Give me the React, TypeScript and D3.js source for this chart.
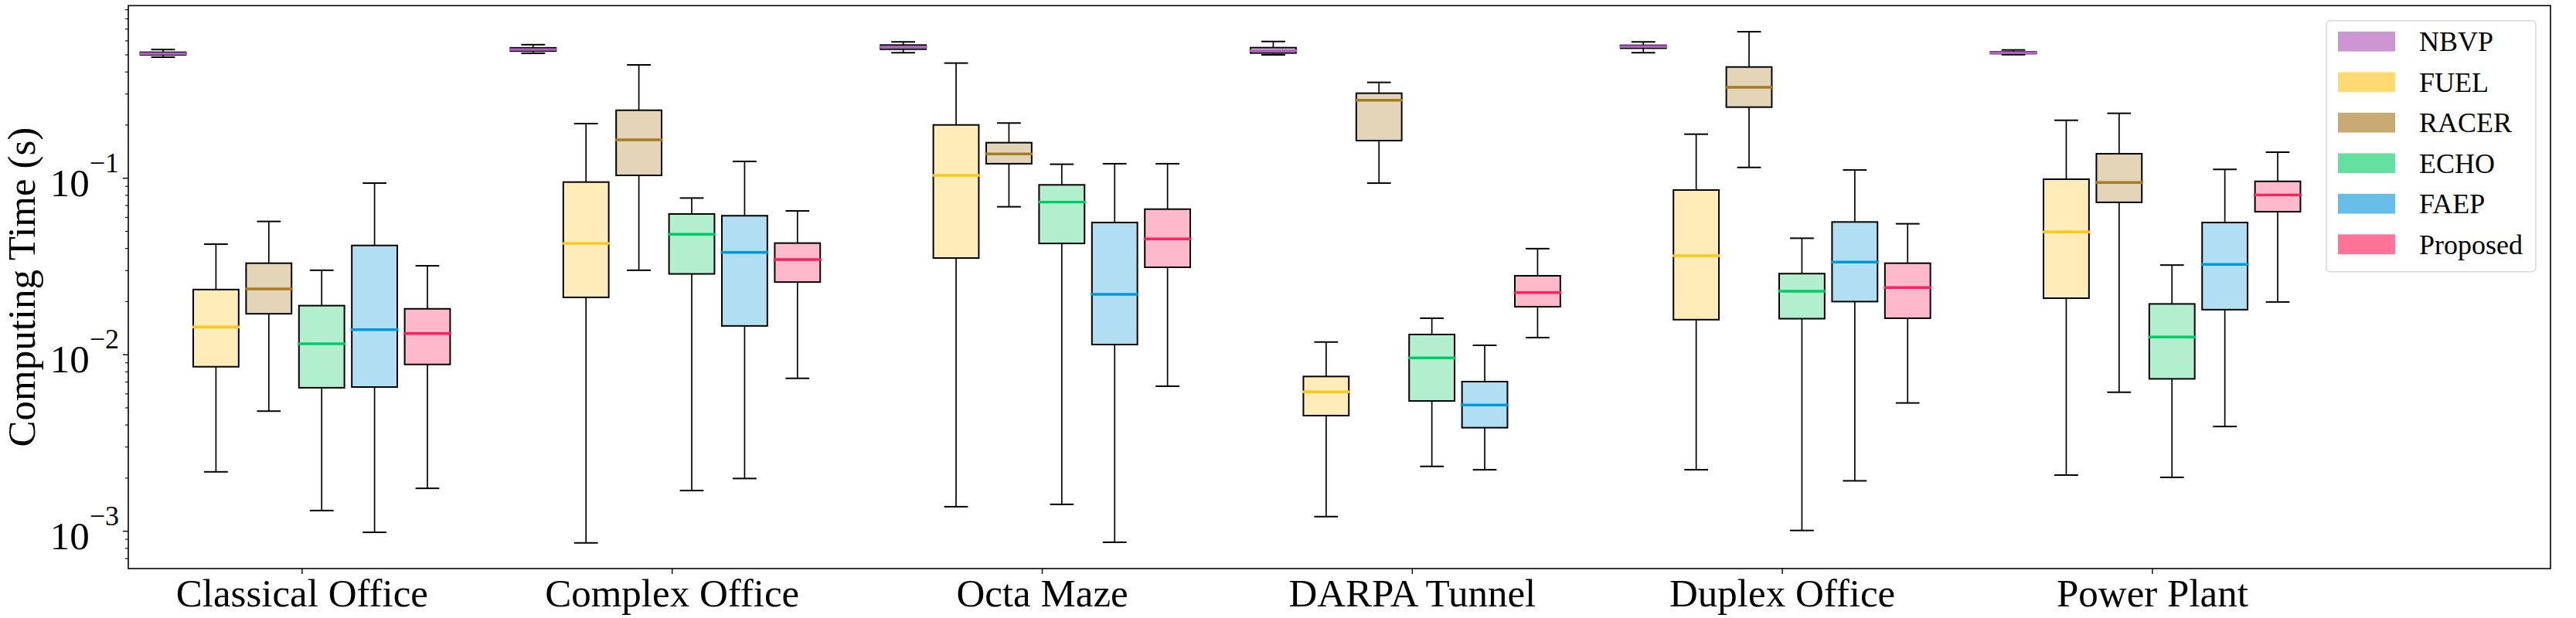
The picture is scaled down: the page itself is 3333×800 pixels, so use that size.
import React from 'react';
import * as d3 from 'd3';

// ---------- data ----------
const categories = ['Classical Office', 'Complex Office', 'Octa Maze', 'DARPA Tunnel', 'Duplex Office', 'Power Plant'];
const methods = ['NBVP', 'FUEL', 'RACER', 'ECHO', 'FAEP', 'Proposed'];

// each entry: [whisker low, Q1, median, Q3, whisker high] per category
const nbvpStats = [
  [0.485, 0.500, 0.508, 0.517, 0.536],
  [0.510, 0.525, 0.536, 0.548, 0.571],
  [0.514, 0.538, 0.553, 0.568, 0.592],
  [0.500, 0.512, 0.527, 0.549, 0.595],
  [0.514, 0.545, 0.557, 0.566, 0.592],
  [0.501, 0.508, 0.514, 0.520, 0.533],
];
const fuelStats = [
  [0.00217, 0.00855, 0.01436, 0.0234, 0.0423],
  [0.000859, 0.02113, 0.0427, 0.0951, 0.2038],
  [0.001377, 0.0353, 0.1038, 0.2004, 0.449],
  [0.00121, 0.00452, 0.00616, 0.00753, 0.0118],
  [0.00223, 0.0158, 0.0364, 0.0857, 0.1776],
  [0.00208, 0.0209, 0.0496, 0.0987, 0.2129],
];
const racerStats = [
  [0.00479, 0.01706, 0.0236, 0.0330, 0.0569],
  [0.0301, 0.1038, 0.165, 0.2427, 0.4385],
  [0.0689, 0.1208, 0.1372, 0.159, 0.2054],
  [0.0938, 0.1633, 0.2767, 0.303, 0.349],
  [0.1151, 0.2527, 0.3274, 0.4267, 0.676],
  [0.00613, 0.073, 0.0945, 0.1376, 0.2332],
];
const echoStats = [
  [0.00131, 0.0065, 0.01153, 0.01897, 0.0301],
  [0.0017, 0.0287, 0.0481, 0.0627, 0.0772],
  [0.00142, 0.0427, 0.0732, 0.0917, 0.120],
  [0.00233, 0.00547, 0.0096, 0.01302, 0.0161],
  [0.00101, 0.0160, 0.0229, 0.0288, 0.0457],
  [0.00202, 0.0073, 0.0126, 0.0194, 0.0322],
];
const faepStats = [
  [0.000986, 0.00656, 0.01387, 0.0416, 0.0938],
  [0.00199, 0.01456, 0.038, 0.0613, 0.1245],
  [0.000866, 0.01142, 0.022, 0.0561, 0.1208],
  [0.00223, 0.00386, 0.00519, 0.00704, 0.01131],
  [0.00193, 0.0200, 0.0335, 0.0565, 0.1113],
  [0.00392, 0.018, 0.0325, 0.0561, 0.1122],
];
const proposedStats = [
  [0.00175, 0.00881, 0.01318, 0.0182, 0.0319],
  [0.00735, 0.0258, 0.0346, 0.0429, 0.0653],
  [0.00663, 0.0313, 0.0453, 0.0668, 0.1208],
  [0.0125, 0.0187, 0.0225, 0.028, 0.0399],
  [0.00533, 0.0161, 0.024, 0.033, 0.0552],
  [0.0199, 0.0646, 0.0804, 0.096, 0.1404],
];
const yMajorTicks = [1e-3, 1e-2, 1e-1];
const yTickExponents = ['\u22123', '\u22122', '\u22121'];

// ---------- styles / layout ----------
const baseColors = ['#AA50B6', '#FFC014', '#A37114', '#00CB61', '#0091D9', '#FF1653'];
const medianColors = ['#B060C0', '#FFC61A', '#A87A22', '#00CC66', '#0099DD', '#FF2060'];
const FONT = '"Liberation Serif", "Times New Roman", serif';
const W = 3333, H = 800;
const M = { left: 166, right: 33, top: 7.3, bottom: 64 };
const GROUP_STRIDE = 7;
const BOX_W = 0.86;
const CAP_W = 0.45;
const TICK_OFFSET = 2.63;

export default function App() {
  const allStats = [nbvpStats, fuelStats, racerStats, echoStats, faepStats, proposedStats];
  const x = d3.scaleLinear().domain([-0.658, 45.16]).range([M.left, W - M.right]);
  const y = d3.scaleLog().domain([6.145e-4, 0.9499]).range([H - M.bottom, M.top]);

  const minorTicks: number[] = [];
  for (let e = -4; e <= 0; e++) {
    for (let k = 2; k <= 9; k++) {
      const v = k * Math.pow(10, e);
      if (v > y.domain()[0] && v < y.domain()[1]) minorTicks.push(v);
    }
  }

  const boxes: any[] = [];
  categories.forEach((cat, g) => {
    methods.forEach((m, j) => {
      const s = allStats[j][g];
      boxes.push({ g, j, pos: g * GROUP_STRIDE + j, s });
    });
  });

  const bw = x(BOX_W) - x(0);
  const cw = x(CAP_W) - x(0);

  const legendX = 3010, legendY = 26.7, legendW = 271, legendH = 325;

  return (
    <svg width={W} height={H} style={{ position: 'absolute', left: 0, top: 0, background: '#fff' }}
      xmlns="http://www.w3.org/2000/svg">
      <rect x={0} y={0} width={W} height={H} fill="#fff" />
      {/* boxes */}
      {boxes.map((b, i) => {
        const cx = x(b.pos);
        const [lo, q1, med, q3, hi] = b.s;
        return (
          <g key={i}>
            <line x1={cx} x2={cx} y1={y(hi)} y2={y(q3)} stroke="#000" strokeWidth={1.7} />
            <line x1={cx} x2={cx} y1={y(q1)} y2={y(lo)} stroke="#000" strokeWidth={1.7} />
            <line x1={cx - cw / 2} x2={cx + cw / 2} y1={y(hi)} y2={y(hi)} stroke="#000" strokeWidth={2} />
            <line x1={cx - cw / 2} x2={cx + cw / 2} y1={y(lo)} y2={y(lo)} stroke="#000" strokeWidth={2} />
            <rect x={cx - bw / 2} y={y(q3)} width={bw} height={Math.max(0.5, y(q1) - y(q3))}
              fill="#fff" stroke="none" />
            <rect x={cx - bw / 2} y={y(q3)} width={bw} height={Math.max(0.5, y(q1) - y(q3))}
              fill={baseColors[b.j]} fillOpacity={0.3} stroke="#000" strokeWidth={2} />
            <line x1={cx - bw / 2 - 1.5} x2={cx + bw / 2 + 1.5} y1={y(med)} y2={y(med)}
              stroke={medianColors[b.j]} strokeWidth={3.4} />
          </g>
        );
      })}

      {/* frame */}
      <rect x={M.left} y={M.top} width={W - M.left - M.right} height={H - M.top - M.bottom}
        fill="none" stroke="#000" strokeWidth={1.6} />

      {/* y ticks */}
      {yMajorTicks.map((v, i) => (
        <g key={'ym' + i}>
          <line x1={M.left - 7} x2={M.left} y1={y(v)} y2={y(v)} stroke="#000" strokeWidth={1.4} />
          <text x={154} y={y(v) + 23} textAnchor="end" fontFamily={FONT} fill="#000">
            <tspan fontSize={51}>10</tspan>
            <tspan fontSize={36} dy={-31}>{yTickExponents[i]}</tspan>
          </text>
        </g>
      ))}
      {minorTicks.map((v, i) => (
        <line key={'yn' + i} x1={M.left - 4} x2={M.left} y1={y(v)} y2={y(v)} stroke="#000" strokeWidth={1.1} />
      ))}

      {/* x ticks */}
      {categories.map((c, g) => {
        const tx = x(g * GROUP_STRIDE + TICK_OFFSET);
        return (
          <g key={'xt' + g}>
            <line x1={tx} x2={tx} y1={H - M.bottom} y2={H - M.bottom + 7} stroke="#000" strokeWidth={1.4} />
            <text x={tx} y={785} textAnchor="middle" fontFamily={FONT} fontSize={51} fill="#000">{c}</text>
          </g>
        );
      })}

      {/* y label */}
      <text transform={`translate(45, ${(M.top + H - M.bottom) / 2}) rotate(-90)`} textAnchor="middle"
        fontFamily={FONT} fontSize={51} fill="#000">Computing Time (s)</text>

      {/* legend */}
      <rect x={legendX} y={legendY} width={legendW} height={legendH} rx={5} ry={5}
        fill="#fff" stroke="#d8d8d8" strokeWidth={1.5} />
      {methods.map((m, j) => {
        const cy = 53.7 + 52.5 * j;
        return (
          <g key={'lg' + j}>
            <rect x={3025} y={cy - 12.8} width={74} height={25.7} fill={baseColors[j]} fillOpacity={0.6} />
            <text x={3130} y={cy + 12.5} fontFamily={FONT} fontSize={36} fill="#000">{m}</text>
          </g>
        );
      })}
    </svg>
  );
}
